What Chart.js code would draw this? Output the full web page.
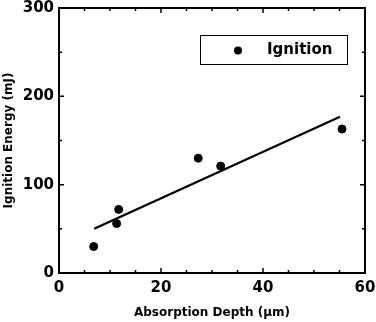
<!DOCTYPE html>
<html>
<head>
<meta charset="utf-8">
<script src="https://cdn.jsdelivr.net/npm/chart.js@4.4.1/dist/chart.umd.min.js"></script>
<style>
  html, body { margin: 0; padding: 0; background: #fff; }
  #wrap { width: 376px; height: 322px; }
</style>
</head>
<body>
<div id="wrap"><canvas id="chart"></canvas></div>
<script>
// measured points (absorption depth in um, ignition energy in mJ)
const depth = [6.8, 11.3, 11.7, 27.3, 31.7, 55.5];
const energy = [30, 56, 72, 130, 121, 163];
// linear fit, endpoints
const fitDepth = [6.9, 55.1];
const fitEnergy = [50, 177];

const xTicks = [0, 20, 40, 60];
const yTicks = [0, 100, 200, 300];

const FONT = "'DejaVu Sans', sans-serif";

// frame + inward ticks on all four sides
const framePlugin = {
  id: "frame",
  afterDatasetsDraw(chart) {
    const { ctx, chartArea: a, scales } = chart;
    const x = scales.x, y = scales.y;
    ctx.save();
    ctx.strokeStyle = "#000";
    ctx.lineWidth = 1.5;
    for (let v = 0; v <= 60; v += 5) {
      const px = x.getPixelForValue(v);
      const len = v % 20 === 0 ? 5 : 3;
      ctx.beginPath();
      ctx.moveTo(px, a.bottom); ctx.lineTo(px, a.bottom - len);
      ctx.moveTo(px, a.top); ctx.lineTo(px, a.top + len);
      ctx.stroke();
    }
    for (let v = 0; v <= 300; v += 50) {
      const py = y.getPixelForValue(v);
      const len = v % 100 === 0 ? 5 : 3;
      ctx.beginPath();
      ctx.moveTo(a.left, py); ctx.lineTo(a.left + len, py);
      ctx.moveTo(a.right, py); ctx.lineTo(a.right - len, py);
      ctx.stroke();
    }
    ctx.lineWidth = 2;
    ctx.strokeRect(a.left, a.top, a.right - a.left, a.bottom - a.top);

    // legend box inside the plot
    const bx = 200, by = 35, bw = 147, bh = 29;
    ctx.lineWidth = 1;
    ctx.strokeRect(bx + 0.5, by + 0.5, bw, bh);
    ctx.fillStyle = "#000";
    ctx.beginPath();
    ctx.arc(238, 50.5, 4, 0, Math.PI * 2);
    ctx.fill();
    ctx.font = "bold 15px " + FONT;
    ctx.textBaseline = "middle";
    ctx.textAlign = "left";
    ctx.fillText(chart.data.datasets[0].label, 267, 50);
    ctx.restore();
  }
};

new Chart(document.getElementById("chart"), {
  data: {
    datasets: [
      {
        type: "scatter",
        label: "Ignition",
        data: depth.map((d, i) => ({ x: d, y: energy[i] })),
        backgroundColor: "#000",
        borderColor: "#000",
        pointRadius: 4,
        pointHoverRadius: 4,
      },
      {
        type: "line",
        label: "fit",
        data: fitDepth.map((d, i) => ({ x: d, y: fitEnergy[i] })),
        borderColor: "#000",
        borderWidth: 2.2,
        pointRadius: 0,
        fill: false,
      },
    ],
  },
  options: {
    responsive: true,
    maintainAspectRatio: false,
    animation: false,
    layout: { padding: { top: 8, right: 11, left: 0, bottom: 0 } },
    plugins: { legend: { display: false }, tooltip: { enabled: false } },
    scales: {
      x: {
        type: "linear",
        min: 0,
        max: 60,
        afterBuildTicks: (s) => { s.ticks = xTicks.map((v) => ({ value: v })); },
        afterFit: (s) => { s.height = 49; s.paddingLeft = 0; s.paddingRight = 0; },
        grid: { display: false, drawTicks: false, tickLength: 0 },
        border: { display: false },
        ticks: { color: "#000", padding: 6, font: { family: FONT, size: 15, weight: "bold" } },
        title: {
          display: true,
          text: "Absorption Depth (\u00b5m)",
          color: "#000",
          font: { family: FONT, size: 12, weight: "bold" },
          padding: { top: 0, bottom: 2 },
        },
      },
      y: {
        type: "linear",
        min: 0,
        max: 300,
        afterBuildTicks: (s) => { s.ticks = yTicks.map((v) => ({ value: v })); },
        afterFit: (s) => { s.width = 59; s.paddingTop = 0; s.paddingBottom = 0; },
        grid: { display: false, drawTicks: false, tickLength: 0 },
        border: { display: false },
        ticks: { color: "#000", padding: 5, font: { family: FONT, size: 15, weight: "bold" } },
        title: {
          display: true,
          text: "Ignition Energy (mJ)",
          color: "#000",
          font: { family: FONT, size: 12, weight: "bold" },
          padding: { top: 2, bottom: 0 },
        },
      },
    },
  },
  plugins: [framePlugin],
});
</script>
</body>
</html>
